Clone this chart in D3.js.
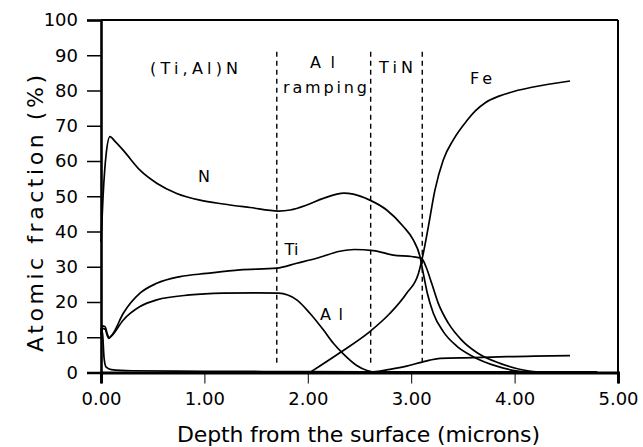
<!DOCTYPE html>
<html>
<head>
<meta charset="utf-8">
<script src="https://cdn.jsdelivr.net/npm/d3@7"></script>
<style>
  html, body { margin: 0; padding: 0; background: #fff; }
  svg { display: block; }
  text { font-family: "DejaVu Sans", "Liberation Sans", sans-serif; fill: #000; }
</style>
</head>
<body>
<svg id="chart" width="643" height="447"></svg>
<script>
// ---------------- data ----------------
const xTicks = [0, 1, 2, 3, 4, 5];
const yTicks = [0, 10, 20, 30, 40, 50, 60, 70, 80, 90, 100];
const xTitle = "Depth from the surface (microns)";
const yTitle = "Atomic fraction  (%)";

// depth (microns), atomic fraction (%)
const seriesN = [
  [0, 37], [0.02, 50], [0.05, 62], [0.087, 66.9], [0.14, 65.4], [0.216, 63.0], [0.377, 57.4],
  [0.539, 53.7], [0.732, 50.8], [0.957, 48.9], [1.183, 47.8], [1.441, 46.8],
  [1.715, 45.8], [1.83, 46.1], [1.99, 47.5], [2.15, 49.4], [2.35, 50.9],
  [2.44, 50.6], [2.60, 48.9], [2.763, 46.1], [2.924, 41.4], [3.02, 37.6],
  [3.085, 32.9], [3.117, 28.1], [3.156, 22.5], [3.214, 16.8], [3.31, 11.6],
  [3.44, 7.5], [3.60, 4.5], [3.827, 1.8], [4.05, 0.3], [4.2, 0]
];
const seriesTi = [
  [0, 11], [0.012, 13.2], [0.04, 13], [0.06, 11], [0.08, 9.9], [0.11, 10.8],
  [0.216, 16.8], [0.377, 22.5], [0.539, 25.3], [0.764, 27.2], [1.022, 28.1],
  [1.344, 29.1], [1.70, 29.6], [1.893, 31.0], [2.086, 32.4], [2.31, 34.4],
  [2.45, 34.9], [2.634, 34.6], [2.827, 33.3], [3.005, 32.9], [3.1, 32.4],
  [3.143, 30.0], [3.198, 25.3], [3.262, 19.6], [3.359, 14.0], [3.488, 9.2],
  [3.649, 5.4], [3.859, 2.6], [4.084, 0.7], [4.31, 0]
];
const seriesAl = [
  [0, 10.5], [0.012, 12.5], [0.04, 12.3], [0.06, 10.5], [0.075, 9.7], [0.1, 10.3],
  [0.216, 14.9], [0.377, 18.7], [0.539, 20.6], [0.86, 22.0], [1.183, 22.5],
  [1.506, 22.6], [1.715, 22.5], [1.893, 20.6], [2.02, 16.8], [2.15, 12.1],
  [2.247, 8.3], [2.343, 5.3], [2.473, 2.0], [2.58, 0.5], [2.63, 0.2],
  [2.795, 0.9], [2.956, 1.8], [3.085, 2.8], [3.18, 3.5], [3.28, 4.0],
  [3.60, 4.2], [3.924, 4.5], [4.536, 4.8]
];
const seriesFe = [
  [2.02, 0], [2.31, 5.6], [2.60, 11.6], [2.795, 16.8], [2.956, 22.5],
  [3.07, 28.1], [3.117, 33.8], [3.166, 41.4], [3.23, 51.8], [3.31, 60.3],
  [3.407, 66.0], [3.537, 71.4], [3.62, 74.2], [3.72, 76.6], [3.85, 78.4],
  [4.0, 79.8], [4.18, 81.0], [4.536, 82.7]
];
const seriesO = [
  [0, 12.5], [0.015, 11], [0.03, 4], [0.05, 1.5], [0.1, 0.8], [0.3, 0.5],
  [1.0, 0.35], [2.0, 0.25], [3.0, 0.2], [4.0, 0.2], [4.8, 0.2]
];
const series = [seriesN, seriesTi, seriesAl, seriesFe, seriesO];

const boundaries = [1.70, 2.608, 3.107];

// annotations in data coordinates (depth, fraction)
const labelText = ["(Ti,Al)N", "Al", "ramping", "TiN", "Fe", "N", "Ti", "Al"];
const labelDepth = [0.90, 2.142, 2.166, 2.853, 3.675, 0.996, 1.842, 2.229];
const labelValue = [84.7, 86.4, 79.3, 85.0, 81.8, 54.0, 33.3, 14.9];

// ---------------- layout ----------------
const svg = d3.select("#chart");
const mLeft = 101, mRight = 618, mTop = 20, mBottom = 372.5;

const x = d3.scaleLinear().domain([0, 5]).range([mLeft, mRight]);
const y = d3.scaleLinear().domain([0, 100]).range([mBottom, mTop]);

// frame
svg.append("line").attr("x1", mLeft).attr("x2", mRight).attr("y1", mTop).attr("y2", mTop)
  .attr("stroke", "#000").attr("stroke-width", 2);
svg.append("line").attr("x1", mRight).attr("x2", mRight).attr("y1", mTop).attr("y2", mBottom)
  .attr("stroke", "#000").attr("stroke-width", 2);

// y axis
const yAxis = d3.axisLeft(y).tickValues(yTicks).tickSize(14).tickPadding(9)
  .tickFormat(d3.format("d"));
const gy = svg.append("g").attr("transform", `translate(${mLeft},0)`).call(yAxis);
gy.select(".domain").attr("stroke-width", 2.6);
gy.selectAll(".tick line").attr("stroke-width", 1.5);
gy.selectAll(".tick text").attr("font-size", 18).style("font-family", "DejaVu Sans, sans-serif");

// x axis
const xAxis = d3.axisBottom(x).tickValues(xTicks).tickSize(11).tickPadding(9)
  .tickFormat(d3.format(".2f"));
const gx = svg.append("g").attr("transform", `translate(0,${mBottom})`).call(xAxis);
gx.select(".domain").attr("stroke-width", 3);
gx.selectAll(".tick line").attr("stroke-width", 1);
gx.selectAll(".tick text").attr("font-size", 18).style("font-family", "DejaVu Sans, sans-serif");

// titles
svg.append("text").attr("x", 177).attr("y", 442).attr("font-size", 22)
  .attr("textLength", 363).attr("lengthAdjust", "spacing").text(xTitle);
svg.append("text").attr("transform", "translate(43,352) rotate(-90)")
  .attr("font-size", 22).attr("textLength", 277).attr("lengthAdjust", "spacing").text(yTitle);

// dashed boundaries
svg.append("g").selectAll("line").data(boundaries).join("line")
  .attr("x1", d => x(d)).attr("x2", d => x(d))
  .attr("y1", y(91)).attr("y2", y(2.4))
  .attr("stroke", "#000").attr("stroke-width", 1.4).attr("stroke-dasharray", "5,4");

// curves
const line = d3.line().x(d => x(d[0])).y(d => y(d[1])).curve(d3.curveMonotoneX);
svg.append("g").selectAll("path").data(series).join("path")
  .attr("d", line).attr("fill", "none").attr("stroke", "#000")
  .attr("stroke-width", 1.7).attr("stroke-linejoin", "round");

// labels
const labelWidths = [88, 25, 84, 34, 22, 0, 0, 23];
svg.append("g").selectAll("text").data(labelText).join("text")
  .attr("x", (d, i) => x(labelDepth[i])).attr("y", (d, i) => y(labelValue[i]))
  .attr("text-anchor", "middle").attr("font-size", 16)
  .each(function (d, i) {
    if (labelWidths[i] > 0) d3.select(this).attr("textLength", labelWidths[i]).attr("lengthAdjust", "spacing");
  })
  .text(d => d);
</script>
</body>
</html>
